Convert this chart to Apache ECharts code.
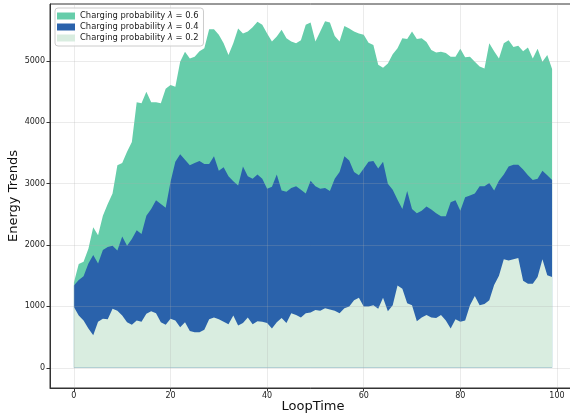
<!DOCTYPE html>
<html>
<head>
<meta charset="utf-8">
<script src="https://cdn.jsdelivr.net/npm/echarts@6/dist/echarts.min.js"></script>
<style>
  html, body { margin: 0; padding: 0; background: #fff; }
  #main { width: 570px; height: 416px; }
</style>
</head>
<body>
<div id="main"></div>
<script>
// values
var prob06 = [1390,1690,1730,1940,2290,2160,2480,2670,2840,3300,
    3340,3520,3680,4330,4310,4500,4330,4330,4310,4550,
    4610,4580,4990,5150,5040,5070,5160,5210,5520,5520,
    5430,5290,5100,5290,5530,5450,5480,5550,5640,5590,
    5450,5320,5400,5510,5370,5320,5290,5340,5590,5630,
    5320,5480,5650,5630,5410,5320,5570,5530,5480,5450,
    5430,5300,5260,4940,4890,4960,5110,5210,5370,5360,
    5480,5360,5370,5310,5180,5140,5150,5130,5070,5070,
    5200,5060,5070,4990,4910,4880,5290,5160,5040,5290,
    5340,5230,5250,5160,5220,5040,5200,4990,5100,4870];
var prob04 = [1340,1430,1490,1700,1840,1700,1920,1970,1990,1910,
    2140,1990,2100,2240,2180,2480,2590,2730,2670,2610,
    3030,3360,3480,3390,3300,3340,3370,3320,3320,3450,
    3210,3270,3120,3040,2970,3280,3120,3080,3150,3080,
    2920,2950,3150,2890,2870,2930,2960,2900,2840,3050,
    2960,2920,2930,2880,3080,3190,3450,3380,3190,3140,
    3250,3360,3370,3250,3360,3000,2900,2740,2590,2880,
    2590,2520,2560,2630,2580,2520,2470,2470,2700,2730,
    2560,2780,2810,2840,2960,2960,3010,2890,3050,3150,
    3280,3310,3310,3230,3140,3060,3080,3210,3140,3060];
var prob02 = [990,850,770,640,530,750,800,790,960,930,
    850,740,700,770,750,880,920,890,740,700,
    800,770,660,740,600,580,580,620,790,820,
    790,750,710,850,690,730,820,710,760,750,
    730,640,740,810,730,890,860,820,890,900,
    940,930,970,950,930,890,970,1000,1100,1140,
    1000,1000,1020,960,1140,920,1020,1340,1290,1050,
    1020,760,820,860,820,810,860,770,640,790,
    750,770,1020,1170,1020,1040,1100,1350,1500,1770,
    1750,1770,1790,1420,1370,1370,1480,1770,1510,1480];
var seriesNames = ['Charging probability λ = 0.6', 'Charging probability λ = 0.4', 'Charging probability λ = 0.2'];
var xTicks = [0, 20, 40, 60, 80, 100];
var yTicks = [0, 1000, 2000, 3000, 4000, 5000];

var colors = ['#66CDAA', '#2A62AB', '#D9EDE0'];
var font = 'DejaVu Sans';

function toPairs(arr) {
    return arr.map(function (v, i) { return [i, v]; });
}

var myChart = echarts.init(document.getElementById('main'));

var gridLine = { show: true, lineStyle: { color: 'rgba(170,170,170,0.3)', width: 0.8 } };

var option = {
    animation: false,
    color: colors,
    grid: {
        left: 50, top: 4, right: -6, bottom: 28,
        containLabel: false,
        outerBoundsMode: 'none',
        show: true, borderColor: '#333', borderWidth: 1
    },
    legend: {
        orient: 'vertical',
        left: 55, top: 8,
        padding: [4, 5, 4, 2],
        itemWidth: 18, itemHeight: 7,
        itemGap: 3,
        icon: 'rect',
        backgroundColor: 'rgba(255,255,255,0.8)',
        borderColor: '#ccc', borderWidth: 1, borderRadius: 3,
        data: seriesNames,
        formatter: function (name) { return name.replace('λ', '{i|λ}'); },
        textStyle: {
            fontFamily: font, fontSize: 8.4, color: '#222',
            rich: { i: { fontStyle: 'italic', fontFamily: font, fontSize: 8.4, color: '#222' } }
        }
    },
    xAxis: {
        type: 'value',
        min: -4.95, max: 103.95,
        z: 3,
        name: 'LoopTime',
        nameLocation: 'middle',
        nameGap: 12,
        nameMoveOverlap: false,
        nameTextStyle: { fontFamily: font, fontSize: 13, color: '#111' },
        axisLine: { show: true, onZero: false, lineStyle: { color: '#333' } },
        axisTick: { show: true, length: 3.5, customValues: xTicks, lineStyle: { color: '#333' } },
        axisLabel: {
            customValues: xTicks, margin: 4,
            fontFamily: font, fontSize: 8, color: '#222',
            formatter: function (v) { return v % 20 === 0 ? String(v) : ''; }
        },
        splitLine: gridLine
    },
    yAxis: {
        type: 'value',
        min: -330, max: 5930,
        z: 3,
        name: 'Energy Trends',
        nameLocation: 'middle',
        nameGap: 30,
        nameMoveOverlap: false,
        nameTextStyle: { fontFamily: font, fontSize: 13, color: '#111' },
        axisLine: { show: true, onZero: false, lineStyle: { color: '#333' } },
        axisTick: { show: true, length: 3.5, customValues: yTicks, lineStyle: { color: '#333' } },
        axisLabel: {
            customValues: yTicks, margin: 5,
            fontFamily: font, fontSize: 8, color: '#222',
            formatter: function (v) { return v % 1000 === 0 ? String(v) : ''; }
        },
        splitLine: gridLine
    },
    series: [prob06, prob04, prob02].map(function (arr, k) {
        return {
            name: seriesNames[k],
            type: 'line',
            data: toPairs(arr),
            symbol: 'none',
            lineStyle: { width: 0 },
            areaStyle: { color: colors[k], opacity: 1, origin: 0 },
            z: 1
        };
    })
};

myChart.setOption(option);
</script>
</body>
</html>
